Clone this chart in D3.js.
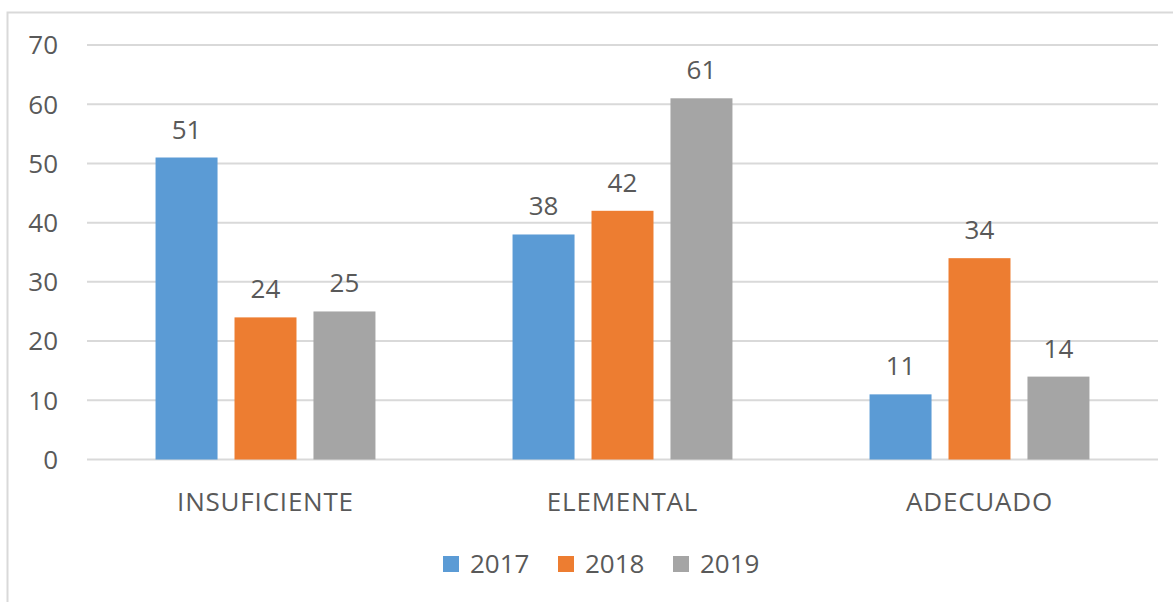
<!DOCTYPE html>
<html>
<head>
<meta charset="utf-8">
<script src="https://cdn.jsdelivr.net/npm/d3@7"></script>
<style>
  body { margin: 0; background: #fff; }
  text { font-family: "Open Sans", sans-serif; fill: #595959; }
</style>
</head>
<body>
<script>
var categories = ["INSUFICIENTE", "ELEMENTAL", "ADECUADO"];
var years = ["2017", "2018", "2019"];
var values2017 = [51, 38, 11];
var values2018 = [24, 42, 34];
var values2019 = [25, 61, 14];
var yTicks = [0, 10, 20, 30, 40, 50, 60, 70];
var colors = ["#5b9bd5", "#ed7d31", "#a5a5a5"];

var seriesValues = [values2017, values2018, values2019];

var width = 1173,
    height = 602;

var svg = d3.select("body").append("svg")
    .attr("width", width)
    .attr("height", height);

// chart border (only top and left visible in the crop)
svg.append("rect")
    .attr("x", 7.5).attr("y", 12.5)
    .attr("width", width + 20).attr("height", height + 20)
    .attr("fill", "none")
    .attr("stroke", "#d9d9d9")
    .attr("stroke-width", 2);

var plotLeft = 87, plotRight = 1158, plotTop = 45, plotBottom = 459.5;

var y = d3.scaleLinear().domain([0, 70]).range([plotBottom, plotTop]);

var x0 = d3.scaleBand().domain(categories)
    .range([plotLeft, plotRight])
    .paddingInner(0.384).paddingOuter(0.192);

var x1 = d3.scaleBand().domain(years)
    .range([0, x0.bandwidth()])
    .paddingInner(0.215).paddingOuter(0);

// gridlines
svg.append("g").selectAll("line")
    .data(yTicks)
  .enter().append("line")
    .attr("x1", plotLeft).attr("x2", plotRight)
    .attr("y1", function(d){ return y(d); })
    .attr("y2", function(d){ return y(d); })
    .attr("stroke", "#d9d9d9")
    .attr("stroke-width", 2);

// y tick labels
svg.append("g").selectAll("text")
    .data(yTicks)
  .enter().append("text")
    .attr("x", 58)
    .attr("y", function(d){ return y(d); })
    .attr("dy", "0.36em")
    .attr("text-anchor", "end")
    .style("font-size", "26px")
    .text(function(d){ return d; });

// bars
var groups = svg.append("g").selectAll("g")
    .data(categories)
  .enter().append("g")
    .attr("transform", function(d){ return "translate(" + x0(d) + ",0)"; });

groups.selectAll("rect")
    .data(function(d, i){ return years.map(function(yr, j){ return {year: yr, value: seriesValues[j][i], k: j}; }); })
  .enter().append("rect")
    .attr("x", function(d){ return x1(d.year); })
    .attr("width", x1.bandwidth())
    .attr("y", function(d){ return y(d.value); })
    .attr("height", function(d){ return plotBottom - y(d.value); })
    .attr("fill", function(d){ return colors[d.k]; });

groups.selectAll("text")
    .data(function(d, i){ return years.map(function(yr, j){ return {year: yr, value: seriesValues[j][i]}; }); })
  .enter().append("text")
    .attr("x", function(d){ return x1(d.year) + x1.bandwidth() / 2; })
    .attr("y", function(d){ return y(d.value) - 19; })
    .attr("text-anchor", "middle")
    .style("font-size", "26px")
    .text(function(d){ return d.value; });

// category labels
svg.append("g").selectAll("text")
    .data(categories)
  .enter().append("text")
    .attr("x", function(d){ return x0(d) + x0.bandwidth() / 2; })
    .attr("y", 511)
    .attr("text-anchor", "middle")
    .style("font-size", "26px")
    .style("letter-spacing", "0.8px")
    .text(function(d){ return d; });

// legend
var legendX = [443, 558, 673];
var legend = svg.append("g").selectAll("g")
    .data(years)
  .enter().append("g")
    .attr("transform", function(d, i){ return "translate(" + legendX[i] + ",556)"; });

legend.append("rect")
    .attr("width", 16).attr("height", 16)
    .attr("fill", function(d, i){ return colors[i]; });

legend.append("text")
    .attr("x", 27).attr("y", 8)
    .attr("dy", "0.36em")
    .style("font-size", "26px")
    .text(function(d){ return d; });
</script>
</body>
</html>
